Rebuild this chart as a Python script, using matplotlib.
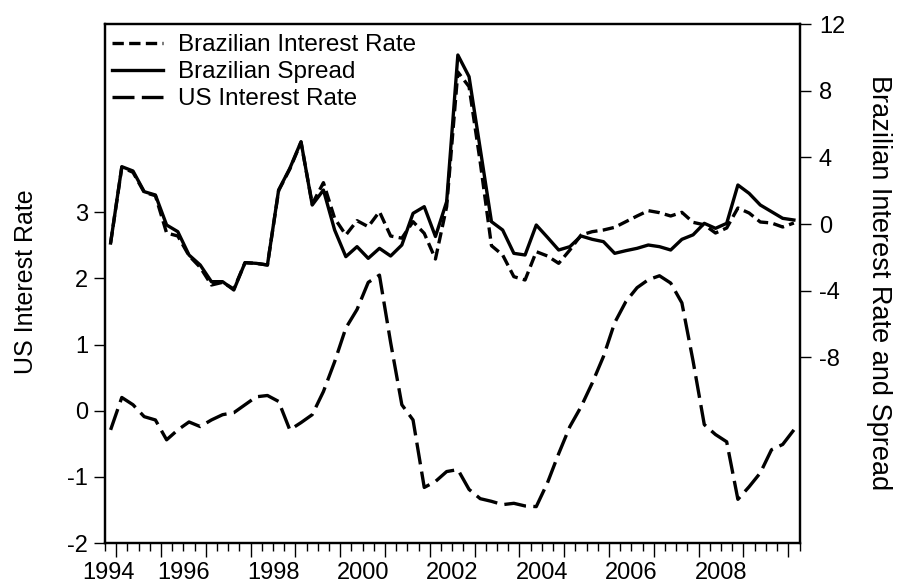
import matplotlib
matplotlib.use("Agg")
import matplotlib.pyplot as plt
import numpy as np
import pandas as pd

plt.rcParams['font.family'] = ['Liberation Sans', 'DejaVu Sans']

# Quarterly observations 1994Q4 .. 2010Q1
quarters = pd.period_range('1994Q4', '2010Q1', freq='Q')

us_rate = [-0.29, 0.20, 0.09, -0.09, -0.14, -0.44, -0.29, -0.17, -0.24, -0.14,
           -0.06, -0.03, 0.09, 0.21, 0.23, 0.14, -0.29, -0.18, -0.06, 0.29,
           0.74, 1.25, 1.53, 1.94, 2.05, 1.03, 0.09, -0.14, -1.16, -1.07,
           -0.92, -0.89, -1.19, -1.33, -1.37, -1.42, -1.40, -1.44, -1.45, -1.09,
           -0.65, -0.24, 0.06, 0.42, 0.82, 1.33, 1.65, 1.86, 1.98, 2.04,
           1.93, 1.63, 0.75, -0.21, -0.36, -0.47, -1.34, -1.15, -0.94, -0.59,
           -0.51, -0.29]

br_spread = [-1.14, 3.44, 3.18, 1.94, 1.74, -0.06, -0.46, -1.86, -2.46, -3.46,
             -3.46, -3.96, -2.32, -2.36, -2.46, 2.04, 3.34, 4.94, 1.14, 2.04,
             -0.36, -1.96, -1.36, -2.06, -1.46, -1.92, -1.26, 0.64, 1.04, -0.75,
             1.34, 10.14, 8.84, 4.50, 0.14, -0.36, -1.76, -1.86, -0.06, -0.80,
             -1.56, -1.36, -0.72, -0.92, -1.06, -1.76, -1.60, -1.46, -1.26, -1.36,
             -1.56, -0.92, -0.65, 0.04, -0.26, 0.04, 2.34, 1.84, 1.14, 0.74,
             0.34, 0.24]

br_rate = [-1.14, 3.40, 3.10, 1.90, 1.70, -0.54, -0.72, -1.90, -2.60, -3.66,
           -3.50, -3.90, -2.32, -2.36, -2.46, 2.00, 3.30, 4.90, 1.20, 2.48,
           0.34, -0.66, 0.20, -0.16, 0.74, -0.72, -0.85, 0.14, -0.56, -2.10,
           1.04, 9.12, 8.24, 3.70, -1.30, -1.86, -3.16, -3.36, -1.66, -1.92,
           -2.36, -1.56, -0.66, -0.46, -0.36, -0.20, 0.14, 0.48, 0.80, 0.68,
           0.48, 0.70, 0.10, -0.05, -0.54, -0.24, 0.96, 0.66, 0.12, 0.06,
           -0.18, 0.06]

year_labels = ['1994', '1996', '1998', '2000', '2002', '2004', '2006', '2008']
left_ticks = [-2, -1, 0, 1, 2, 3]
right_ticks = [-8, -4, 0, 4, 8, 12]

t = np.array([q.year + (q.quarter - 0.5) / 4.0 for q in quarters])

W, H = 902, 583
fig = plt.figure(figsize=(W / 100, H / 100), dpi=100)
L, R, T, B = 105, 799.5, 24, 543
ax = fig.add_axes([L / W, 1 - B / H, (R - L) / W, (B - T) / H])
ax2 = ax.twinx()

lw = 2.4
l_us, = ax.plot(t, us_rate, color='black', lw=lw, dashes=(6.6, 2.2),
                label='US Interest Rate')
l_br, = ax2.plot(t, br_rate, color='black', lw=lw, dashes=(3.4, 1.6),
                 label='Brazilian Interest Rate')
l_sp, = ax2.plot(t, br_spread, color='black', lw=lw, label='Brazilian Spread')

ax.set_xlim(1994.75, 2010.25)
ax.set_ylim(-2, 5.846)
ax2.set_ylim(-19.14, 12)

ax.set_yticks(left_ticks)
ax.set_yticklabels([str(v) for v in left_ticks])
ax2.set_yticks(right_ticks)
ax2.set_yticklabels([str(v) for v in right_ticks])

# x ticks: yearly major, quarterly minor, labels mid-year
ax.set_xticks(np.arange(1995, 2011))
ax.set_xticklabels([])
ax.set_xticks(np.arange(1994.75, 2010.3, 0.25), minor=True)
ax.tick_params(axis='x', which='major', length=10, width=1, direction='out')
ax.tick_params(axis='x', which='minor', length=6, width=1, direction='out')
label_pos = [1994.82] + [int(y) + 0.5 for y in year_labels[1:]]
for pos, lab in zip(label_pos, year_labels):
    ax.text(pos, -0.036, lab, transform=ax.get_xaxis_transform(),
            ha='center', va='top', fontsize=17)

ax.tick_params(axis='y', length=8, width=1, labelsize=17, pad=4)
ax2.tick_params(axis='y', length=8, width=1, labelsize=17, pad=6)

for a in (ax, ax2):
    for s in a.spines.values():
        s.set_linewidth(1.6)

fig.text(26 / W, 1 - 282 / H, 'US Interest Rate', rotation=90,
         ha='center', va='center', fontsize=18)
fig.text(879 / W, 1 - 283 / H, 'Brazilian Interest Rate and Spread',
         rotation=270, ha='center', va='center', fontsize=19.5)

leg = ax2.legend(handles=[l_br, l_sp, l_us], loc='upper left',
                 bbox_to_anchor=(0.01, 0.98), frameon=False, fontsize=17.5,
                 handlelength=2.1, handletextpad=0.6, labelspacing=0.2,
                 borderpad=0, borderaxespad=0)

fig.savefig('out.png', dpi=100)
